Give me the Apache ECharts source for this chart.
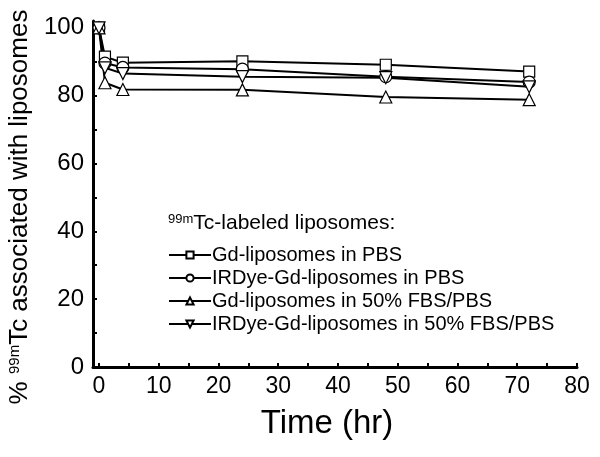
<!DOCTYPE html>
<html>
<head>
<meta charset="utf-8">
<script src="https://cdn.jsdelivr.net/npm/echarts@6/dist/echarts.min.js"></script>
<style>
  html, body { margin: 0; padding: 0; background: #fff; }
  #chart { width: 600px; height: 457px; }
</style>
</head>
<body>
<div id="chart"></div>
<script>
// sampling times (hr)
var times = [0, 1, 4, 24, 48, 72];

// % 99mTc associated with liposomes
var gdPbs = [100, 91.5, 89.7, 90.1, 89.1, 87.1];
var irdyePbs = [100, 89.6, 88.3, 87.8, 85.6, 84.0];
var gdFbs = [100, 83.8, 81.8, 81.7, 79.6, 78.8];
var irdyeFbs = [100, 88.2, 86.5, 85.6, 85.3, 82.6];

var xLabels = [0, 10, 20, 30, 40, 50, 60, 70, 80];
var xTicks = [0, 5, 10, 15, 20, 25, 30, 35, 40, 45, 50, 55, 60, 65, 70, 75, 80];
var yLabels = [0, 20, 40, 60, 80, 100];
var yTicks = [0, 10, 20, 30, 40, 50, 60, 70, 80, 90, 100];

var FONT = '"Liberation Sans", Arial, sans-serif';

function pairs(vals) {
  return times.map(function (t, i) { return [t, vals[i]]; });
}

function makeSeries(name, vals, symbol, rotate) {
  return {
    name: name,
    type: 'line',
    data: pairs(vals),
    symbol: symbol,
    symbolSize: symbol === 'rect' ? 11 : 12,
    symbolRotate: rotate || 0,
    showAllSymbol: true,
    lineStyle: { color: '#000', width: 2 },
    itemStyle: { color: '#fff', borderColor: '#000', borderWidth: 1.2 },
    emphasis: { disabled: true },
    animation: false
  };
}

var chart = echarts.init(document.getElementById('chart'));
chart.setOption({
  backgroundColor: '#fff',
  animation: false,
  grid: {
    left: 93, right: 23, top: 21, bottom: 90,
    containLabel: false,
    outerBoundsMode: 'none'
  },
  xAxis: {
    type: 'value',
    min: -1,
    max: 80,
    name: 'Time (hr)',
    nameLocation: 'middle',
    nameGap: 40,
    nameTextStyle: { fontFamily: FONT, fontSize: 33, color: '#000', padding: [0, 16, 0, 0] },
    axisLine: { show: true, onZero: false, lineStyle: { color: '#000', width: 3 } },
    axisTick: { show: true, inside: true, length: 4, customValues: xTicks, lineStyle: { color: '#000', width: 2 } },
    axisLabel: { customValues: xLabels, fontFamily: FONT, fontSize: 23, color: '#000', margin: 8 },
    splitLine: { show: false }
  },
  yAxis: {
    type: 'value',
    min: 0,
    max: 102,
    name: '{pct|% }{sup|99m}{main|Tc associated with liposomes}',
    nameLocation: 'middle',
    nameGap: 55,
    nameTextStyle: {
      fontFamily: FONT, fontSize: 26, color: '#000', padding: [0, 26, 0, 0],
      rich: {
        pct: { fontFamily: FONT, fontSize: 26, color: '#000' },
        sup: { fontFamily: FONT, fontSize: 15, color: '#000', verticalAlign: 'top', padding: [0, 0, 9, 0] },
        main: { fontFamily: FONT, fontSize: 26, color: '#000' }
      }
    },
    axisLine: { show: true, onZero: false, lineStyle: { color: '#000', width: 3 } },
    axisTick: { show: true, inside: true, length: 4, customValues: yTicks, lineStyle: { color: '#000', width: 2 } },
    axisLabel: { customValues: yLabels, fontFamily: FONT, fontSize: 24, color: '#000', margin: 9 },
    splitLine: { show: false }
  },
  legend: {
    orient: 'vertical',
    left: 163,
    top: 240,
    itemWidth: 42,
    itemHeight: 9,
    itemGap: 3,
    selectedMode: false,
    textStyle: { fontFamily: FONT, fontSize: 20, color: '#000', padding: [0, 0, 0, -4] },
    data: [
      'Gd-liposomes in PBS',
      'IRDye-Gd-liposomes in PBS',
      'Gd-liposomes in 50% FBS/PBS',
      'IRDye-Gd-liposomes in 50% FBS/PBS'
    ]
  },
  graphic: [{
    type: 'text',
    left: 168,
    top: 213,
    style: {
      text: '{sup|99m}{main|Tc-labeled liposomes:}',
      rich: {
        sup: { fontFamily: FONT, fontSize: 13, fill: '#000', verticalAlign: 'top', padding: [0, 0, 8, 0] },
        main: { fontFamily: FONT, fontSize: 21, fill: '#000' }
      }
    }
  }],
  series: [
    makeSeries('Gd-liposomes in PBS', gdPbs, 'rect'),
    makeSeries('IRDye-Gd-liposomes in PBS', irdyePbs, 'circle'),
    makeSeries('Gd-liposomes in 50% FBS/PBS', gdFbs, 'triangle'),
    makeSeries('IRDye-Gd-liposomes in 50% FBS/PBS', irdyeFbs, 'triangle', 180)
  ]
});
</script>
</body>
</html>
